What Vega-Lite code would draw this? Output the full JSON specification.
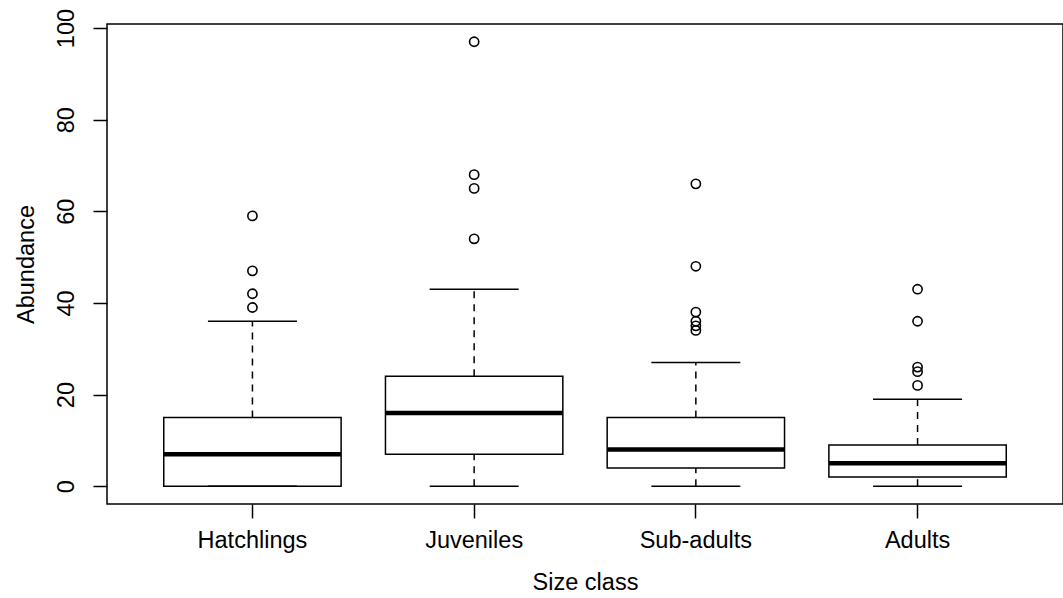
{
  "$schema": "https://vega.github.io/schema/vega-lite/v6.json",
  "width": 956,
  "height": 480,
  "autosize": {"type": "none"},
  "padding": {"left": 107, "top": 24, "right": 0, "bottom": 94},
  "background": "white",
  "config": {
    "view": {"stroke": "black", "strokeWidth": 1.5},
    "font": "Liberation Sans",
    "axis": {
      "labelFont": "Liberation Sans",
      "titleFont": "Liberation Sans",
      "labelFontSize": 23.5,
      "titleFontSize": 23.5,
      "titleFontWeight": "normal",
      "labelColor": "black",
      "titleColor": "black",
      "tickColor": "black",
      "tickWidth": 1.5,
      "domain": false,
      "grid": false,
      "labelOverlap": false,
      "labelFlush": false,
      "labelBound": false
    }
  },
  "datasets": {
    "stats": [
      {"class": "Hatchlings", "lower": 0, "q1": 0, "median": 7, "q3": 15, "upper": 36},
      {"class": "Juveniles", "lower": 0, "q1": 7, "median": 16, "q3": 24, "upper": 43},
      {"class": "Sub-adults", "lower": 0, "q1": 4, "median": 8, "q3": 15, "upper": 27},
      {"class": "Adults", "lower": 0, "q1": 2, "median": 5, "q3": 9, "upper": 19}
    ],
    "outliers": [
      {"class": "Hatchlings", "value": 39},
      {"class": "Hatchlings", "value": 42},
      {"class": "Hatchlings", "value": 47},
      {"class": "Hatchlings", "value": 59},
      {"class": "Juveniles", "value": 54},
      {"class": "Juveniles", "value": 65},
      {"class": "Juveniles", "value": 68},
      {"class": "Juveniles", "value": 97},
      {"class": "Sub-adults", "value": 34},
      {"class": "Sub-adults", "value": 35},
      {"class": "Sub-adults", "value": 36},
      {"class": "Sub-adults", "value": 38},
      {"class": "Sub-adults", "value": 48},
      {"class": "Sub-adults", "value": 66},
      {"class": "Adults", "value": 22},
      {"class": "Adults", "value": 25},
      {"class": "Adults", "value": 26},
      {"class": "Adults", "value": 36},
      {"class": "Adults", "value": 43}
    ]
  },
  "encoding": {
    "x": {
      "field": "class",
      "type": "nominal",
      "sort": ["Hatchlings", "Juveniles", "Sub-adults", "Adults"],
      "scale": {"paddingInner": 0.2, "paddingOuter": 0.256},
      "axis": {
        "title": "Size class",
        "labelAngle": 0,
        "labelBaseline": "alphabetic",
        "labelPadding": 29,
        "tickSize": 14,
        "titleX": 478,
        "titleY": 85.6,
        "titleAlign": "center",
        "titleBaseline": "alphabetic"
      }
    }
  },
  "layer": [
    {
      "data": {"name": "stats"},
      "mark": {"type": "rule", "stroke": "black", "strokeWidth": 1.5, "strokeDash": [7, 6]},
      "encoding": {
        "y": {
          "field": "q3",
          "type": "quantitative",
          "scale": {"domain": [-3.88, 100.88], "nice": false, "zero": false},
          "axis": {
            "title": "Abundance",
            "values": [0, 20, 40, 60, 80, 100],
            "labelAngle": -90,
            "labelAlign": "center",
            "labelBaseline": "alphabetic",
            "labelPadding": 20,
            "tickSize": 14,
            "titleX": -74,
            "titleY": 240,
            "titleAngle": -90,
            "titleAlign": "center",
            "titleBaseline": "alphabetic"
          }
        },
        "y2": {"field": "upper"}
      }
    },
    {
      "data": {"name": "stats"},
      "mark": {"type": "rule", "stroke": "black", "strokeWidth": 1.5, "strokeDash": [7, 6]},
      "encoding": {
        "y": {"field": "lower", "type": "quantitative", "title": "Abundance"},
        "y2": {"field": "q1"}
      }
    },
    {
      "data": {"name": "stats"},
      "mark": {"type": "bar", "fill": "white", "stroke": "black", "strokeWidth": 1.5},
      "encoding": {
        "y": {"field": "q1", "type": "quantitative", "title": "Abundance"},
        "y2": {"field": "q3"}
      }
    },
    {
      "data": {"name": "stats"},
      "mark": {"type": "tick", "color": "black", "size": 177, "thickness": 4.5, "opacity": 1},
      "encoding": {
        "y": {"field": "median", "type": "quantitative", "title": "Abundance"}
      }
    },
    {
      "data": {"name": "stats"},
      "mark": {"type": "tick", "color": "black", "size": 89, "thickness": 1.5, "opacity": 1},
      "encoding": {
        "y": {"field": "upper", "type": "quantitative", "title": "Abundance"}
      }
    },
    {
      "data": {"name": "stats"},
      "mark": {"type": "tick", "color": "black", "size": 89, "thickness": 1.5, "opacity": 1},
      "encoding": {
        "y": {"field": "lower", "type": "quantitative", "title": "Abundance"}
      }
    },
    {
      "data": {"name": "outliers"},
      "mark": {"type": "point", "shape": "circle", "filled": false, "stroke": "black", "strokeWidth": 1.6, "size": 85, "opacity": 1},
      "encoding": {
        "y": {"field": "value", "type": "quantitative", "title": "Abundance"}
      }
    }
  ]
}
